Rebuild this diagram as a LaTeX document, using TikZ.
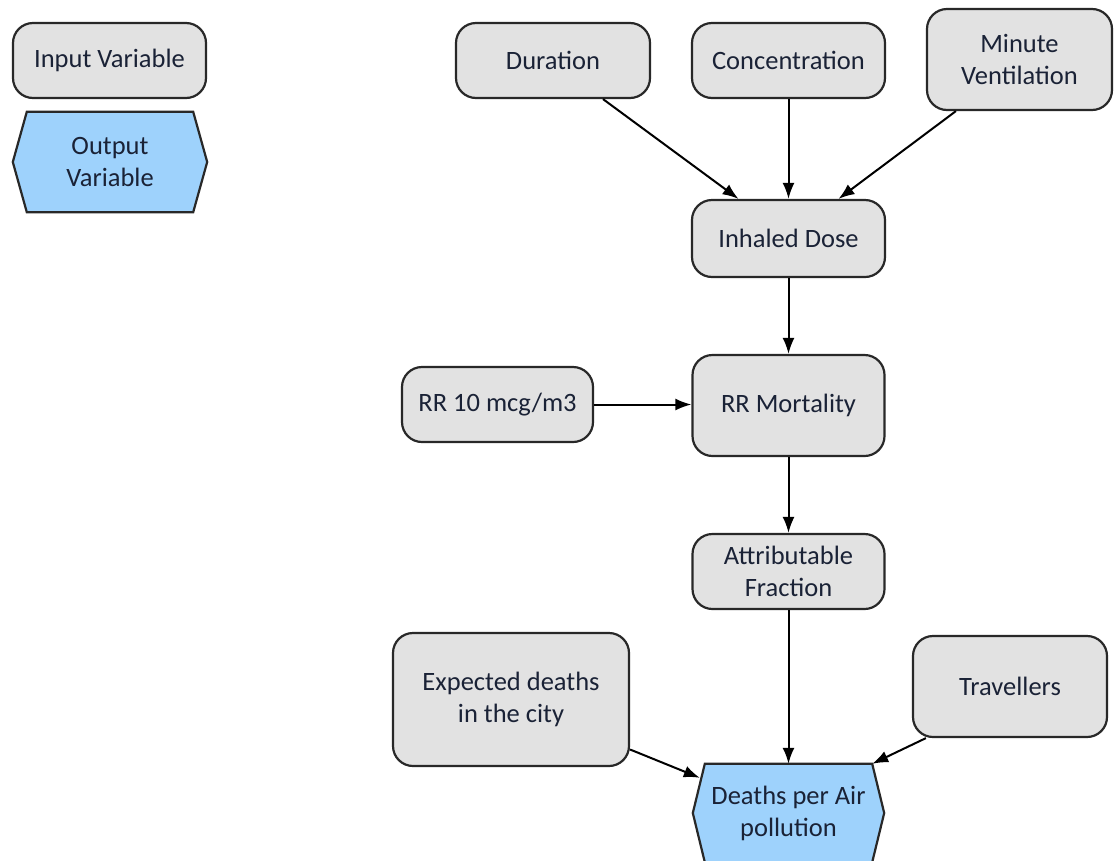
\documentclass[tikz,border=0pt]{standalone}
\usepackage{fontspec}
\setmainfont{Carlito}
\usetikzlibrary{arrows.meta,backgrounds}
\definecolor{boxfill}{RGB}{226,226,226}
\definecolor{hexfill}{RGB}{158,210,252}
\definecolor{edge}{RGB}{40,40,40}
\definecolor{txt}{RGB}{26,34,54}
\tikzset{
  base/.style={inner sep=0pt, align=center, text=txt,
    font=\fontsize{26.5}{32}\selectfont},
  var/.style={base, rectangle, rounded corners=20pt, draw=edge,
    line width=2.2pt, fill=boxfill},
  outvar/.style={base, rectangle, draw=none},
  hexline/.style={draw=edge, line width=2.2pt, fill=hexfill, line join=miter},
  arr/.style={line width=2pt, draw=black,
    -{Latex[length=16pt,width=12pt]}}
}
\begin{document}
\begin{tikzpicture}[x=1pt,y=-1pt]
\useasboundingbox (0,0) rectangle (1115,860);
\clip (0,0) rectangle (1115,860);

% legend
\node[var, minimum width=193pt, minimum height=75pt] (inp) at (109.5,60.5) {Input Variable};
\node[outvar, minimum width=194pt, minimum height=100pt] (outv) at (110,162) {Output\\Variable};

% main nodes
\node[var, minimum width=194pt, minimum height=75pt] (dur) at (553,60.5) {Duration};
\node[var, minimum width=193pt, minimum height=75pt] (conc) at (788.5,60.5) {Concentration};
\node[var, minimum width=185pt, minimum height=101pt] (mv) at (1019.5,59.5) {Minute\\Ventilation};
\node[var, minimum width=193pt, minimum height=77pt] (inh) at (788.5,238.5) {Inhaled Dose};
\node[var, minimum width=191pt, minimum height=75pt] (rr10) at (497.5,404.5) {RR 10 mcg/m3};
\node[var, minimum width=192pt, minimum height=101pt] (rrm) at (788.5,405.5) {RR Mortality};
\node[var, minimum width=192pt, minimum height=75pt] (af) at (788.5,571.5) {Attributable\\Fraction};
\node[var, minimum width=236pt, minimum height=133pt] (exp) at (511,699.5) {Expected deaths\\in the city};
\node[var, minimum width=194pt, minimum height=101pt] (trav) at (1010,686.5) {Travellers};
\node[outvar, minimum width=191pt, minimum height=98pt] (dpa) at (788.5,813) {Deaths per Air\\pollution};

% hexagon outlines behind the output texts
\begin{scope}[on background layer]
\draw[hexline] (outv.west) -- ([xshift=14pt]outv.north west) -- ([xshift=-14pt]outv.north east)
  -- (outv.east) -- ([xshift=-14pt]outv.south east) -- ([xshift=14pt]outv.south west) -- cycle;
\draw[hexline] (dpa.west) -- ([xshift=12pt]dpa.north west) -- ([xshift=-12pt]dpa.north east)
  -- (dpa.east) -- ([xshift=-12pt]dpa.south east) -- ([xshift=12pt]dpa.south west) -- cycle;
\end{scope}

% connectors
\draw[arr] ([xshift=50pt]dur.south) -- ([xshift=-50pt]inh.north);
\draw[arr] (conc.south) -- (inh.north);
\draw[arr] ([xshift=30pt]mv.south west) -- ([xshift=50pt]inh.north);
\draw[arr] (inh.south) -- (rrm.north);
\draw[arr] (rr10.east) -- (rrm.west |- rr10.east);
\draw[arr] (rrm.south) -- (af.north);
\draw[arr] (af.south) -- (dpa.north);
\draw[arr] ([yshift=-50pt]exp.east) -- ([xshift=7pt,yshift=-14pt]dpa.north west);
\draw[arr] ([xshift=14pt]trav.south west) -- ([xshift=-12pt]dpa.north east);
\end{tikzpicture}
\end{document}
